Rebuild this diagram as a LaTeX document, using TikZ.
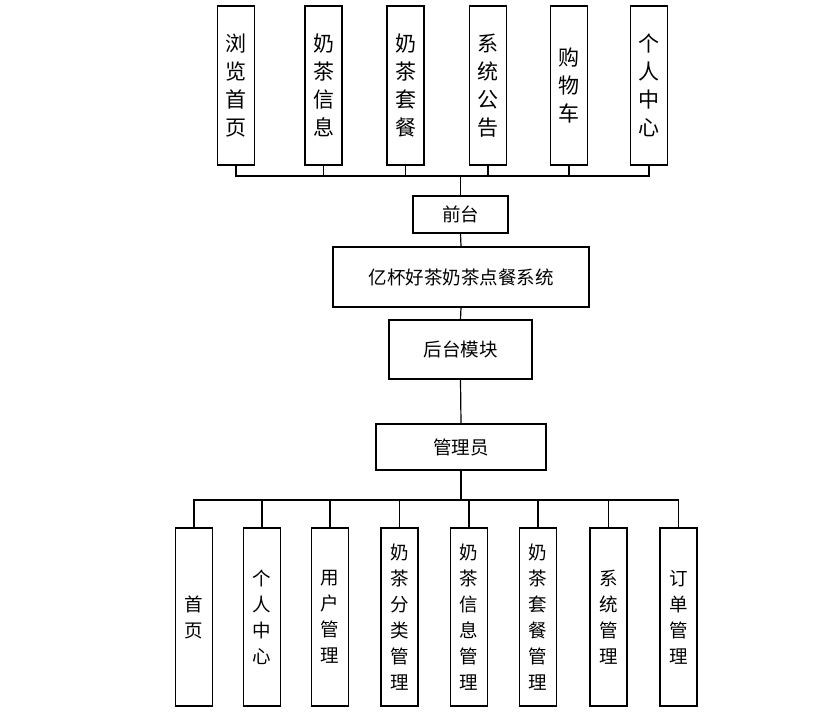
\documentclass[tikz,border=0pt]{standalone}
\usepackage{fontspec}
\setmainfont{Noto Sans CJK SC}
\begin{document}
\begin{tikzpicture}[x=1pt,y=-1pt,
  box/.style={draw=black, line width=1.3pt, inner sep=0pt, align=center, fill=white},
  tbox/.style={box, minimum width=37pt, minimum height=159pt, font=\fontsize{21pt}{28pt}\selectfont},
  bbox/.style={box, minimum width=37pt, minimum height=178pt, font=\fontsize{18.5pt}{26pt}\selectfont},
  mbox/.style={box, font=\fontsize{18.5pt}{22pt}\selectfont},
  conn/.style={line width=1.2pt, draw=black}]
\useasboundingbox (0,0) rectangle (839,720);
% top row
\node[tbox] (t1) at (236,85.5) {浏\\览\\首\\页};
\node[tbox] (t2) at (323.5,85.5) {奶\\茶\\信\\息};
\node[tbox] (t3) at (405.5,85.5) {奶\\茶\\套\\餐};
\node[tbox] (t4) at (488,85.5) {系\\统\\公\\告};
\node[tbox] (t5) at (569,85.5) {购\\物\\车};
\node[tbox] (t6) at (649,85.5) {个\\人\\中\\心};
% middle
\node[mbox, minimum width=95pt, minimum height=37pt] (qt) at (460.5,214.5) {前台};
\node[mbox, minimum width=256pt, minimum height=60pt] (sys) at (461,277) {亿杯好茶奶茶点餐系统};
\node[mbox, minimum width=143pt, minimum height=59pt] (ht) at (460.5,349.5) {后台模块};
\node[mbox, minimum width=170pt, minimum height=46pt] (gl) at (461,447) {管理员};
% bottom row
\node[bbox] (b1) at (194,617) {首\\页};
\node[bbox] (b2) at (262,617) {个\\人\\中\\心};
\node[bbox] (b3) at (330,617) {用\\户\\管\\理};
\node[bbox] (b4) at (399.5,617) {奶\\茶\\分\\类\\管\\理};
\node[bbox] (b5) at (469,617) {奶\\茶\\信\\息\\管\\理};
\node[bbox] (b6) at (538,617) {奶\\茶\\套\\餐\\管\\理};
\node[bbox] (b7) at (608.5,617) {系\\统\\管\\理};
\node[bbox] (b8) at (678.5,617) {订\\单\\管\\理};
% connectors
\coordinate (tb) at (460.5,176);
\coordinate (bb) at (461,500);
\foreach \n in {t1,t2,t3,t4,t5,t6} \draw[conn] (\n.south) |- (tb);
\draw[conn] (tb) -- (qt.north);
\draw[conn] (qt.south) -- (sys.north);
\draw[conn] (sys.south) -- (ht.north);
\draw[conn] (ht.south) -- (gl.north);
\draw[conn] (gl.south) -- (bb);
\foreach \n in {b1,b2,b3,b4,b5,b6,b7,b8} \draw[conn] (bb) -| (\n.north);
\end{tikzpicture}
\end{document}
